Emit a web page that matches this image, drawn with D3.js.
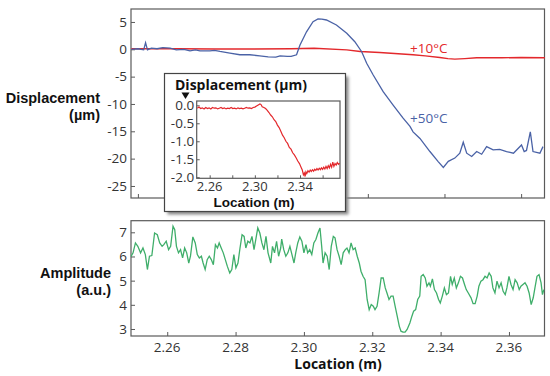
<!DOCTYPE html>
<html><head><meta charset="utf-8">
<script src="https://cdn.jsdelivr.net/npm/d3@7"></script>
<style>
html,body{margin:0;padding:0;background:#fff;}
text{font-family:"Open Sans",sans-serif;}
</style></head>
<body><svg id="c" width="550" height="376"></svg>
<script>
// ---- Top panel: displacement (µm) vs location (m)
const topTicksX = [2.26, 2.28, 2.30, 2.32, 2.34, 2.36];
const topTicksY = [5, 0, -5, -10, -15, -20, -25];
const blueLoc = [2.2583,2.2600,2.2615,2.2620,2.2625,2.2635,2.2650,2.2665,2.2684,2.2700,2.2720,2.2736,2.2750,2.2762,2.2788,2.2800,2.2814,2.2840,2.2866,2.2892,2.2918,2.2940,2.2960,2.2971,2.2990,2.3000,2.3014,2.3023,2.3040,2.3057,2.3070,2.3080,2.3092,2.3118,2.3145,2.3166,2.3184,2.3197,2.3214,2.3240,2.3266,2.3292,2.3310,2.3318,2.3336,2.3362,2.3383,2.3397,2.3410,2.3427,2.3440,2.3449,2.3458,2.3471,2.3484,2.3497,2.3510,2.3527,2.3544,2.3562,2.3580,2.3601,2.3608,2.3614,2.3624,2.3631,2.3649,2.3657];
const blueVal = [0.0,0.1,-0.1,1.2,-0.1,0.2,0.1,0.3,0.2,-0.1,0.0,-0.3,-0.1,-0.3,-0.3,-0.2,-0.4,-0.7,-1.0,-1.0,-1.2,-1.4,-1.45,-1.2,-1.3,-1.3,-1.0,0.8,3.2,5.05,5.54,5.5,5.36,4.44,2.92,1.39,-0.44,-2.56,-4.7,-7.75,-10.2,-12.6,-14.1,-15.1,-16.3,-18.7,-20.5,-21.6,-20.5,-19.9,-19.0,-17.0,-19.0,-19.6,-18.7,-19.2,-17.8,-18.4,-18.3,-18.7,-19.0,-17.5,-18.7,-18.5,-15.1,-18.7,-19.0,-17.8];
const redLoc = [2.2583,2.2700,2.2800,2.2900,2.3000,2.3060,2.3145,2.3180,2.3231,2.3318,2.3350,2.3388,2.3409,2.3427,2.3453,2.3484,2.3550,2.3600,2.3662];
const redVal = [0.1,0.1,0.05,0.05,0.1,0.2,-0.1,-0.4,-0.6,-1.0,-1.2,-1.5,-1.7,-1.8,-1.7,-1.55,-1.55,-1.5,-1.55];
const seriesLabels = ["+10°C", "+50°C"];

// ---- Inset: displacement near 2.30 m
const insetTicksX = [2.26, 2.28, 2.30, 2.32, 2.34, 2.36];
const insetLabelsX = [2.26, 2.30, 2.34];
const insetTicksY = [0.0, -0.5, -1.0, -1.5, -2.0];
const insetLoc = [2.2490,2.2505,2.2520,2.2535,2.2550,2.2565,2.2580,2.2595,2.2610,2.2625,2.2640,2.2655,2.2670,2.2685,2.2700,2.2715,2.2730,2.2745,2.2760,2.2775,2.2790,2.2805,2.2820,2.2835,2.2850,2.2865,2.2880,2.2895,2.2910,2.2925,2.2940,2.2955,2.2970,2.2985,2.3000,2.3015,2.3030,2.3045,2.3055,2.3065,2.3080,2.3095,2.3110,2.3125,2.3140,2.3155,2.3170,2.3185,2.3200,2.3215,2.3230,2.3245,2.3260,2.3275,2.3290,2.3305,2.3320,2.3335,2.3350,2.3365,2.3380,2.3395,2.3410,2.3420,2.3430,2.3438,2.3445,2.3452,2.3460,2.3470,2.3480,2.3490,2.3500,2.3510,2.3520,2.3530,2.3540,2.3550,2.3560,2.3570,2.3580,2.3590,2.3600,2.3610,2.3620,2.3630,2.3640,2.3650,2.3660,2.3670,2.3680,2.3690,2.3700,2.3710,2.3720,2.3730,2.3740,2.3750];
const insetVal = [-0.08,-0.05,-0.09,-0.07,-0.10,-0.06,-0.09,-0.07,-0.10,-0.06,-0.08,-0.07,-0.10,-0.08,-0.06,-0.09,-0.07,-0.10,-0.08,-0.09,-0.06,-0.09,-0.08,-0.10,-0.07,-0.09,-0.08,-0.10,-0.08,-0.06,-0.08,-0.07,-0.09,-0.06,-0.05,-0.02,0.01,0.04,0.02,-0.04,-0.06,-0.09,-0.14,-0.20,-0.27,-0.32,-0.40,-0.45,-0.55,-0.62,-0.72,-0.83,-0.90,-1.00,-1.06,-1.17,-1.22,-1.32,-1.38,-1.46,-1.55,-1.62,-1.73,-1.80,-1.93,-1.88,-1.98,-1.85,-1.90,-1.82,-1.86,-1.80,-1.84,-1.79,-1.83,-1.78,-1.81,-1.76,-1.80,-1.75,-1.79,-1.74,-1.78,-1.72,-1.77,-1.70,-1.76,-1.68,-1.74,-1.64,-1.72,-1.58,-1.70,-1.62,-1.66,-1.59,-1.64,-1.61];

// ---- Bottom panel: amplitude (a.u.)
const botTicksX = [2.26, 2.28, 2.30, 2.32, 2.34, 2.36];
const botTicksY = [7, 6, 5, 4, 3];
const greenLoc = [2.2494,2.2500,2.2507,2.2514,2.2522,2.2529,2.2536,2.2542,2.2548,2.2555,2.2563,2.2571,2.2578,2.2585,2.2590,2.2597,2.2604,2.2610,2.2617,2.2622,2.2627,2.2633,2.2639,2.2645,2.2651,2.2657,2.2663,2.2668,2.2675,2.2682,2.2688,2.2694,2.2700,2.2705,2.2711,2.2717,2.2723,2.2729,2.2735,2.2741,2.2747,2.2752,2.2758,2.2764,2.2770,2.2776,2.2783,2.2789,2.2795,2.2801,2.2807,2.2813,2.2819,2.2825,2.2830,2.2836,2.2842,2.2848,2.2854,2.2860,2.2865,2.2871,2.2877,2.2883,2.2889,2.2895,2.2903,
2.2908,2.2914,2.2920,2.2926,2.2932,2.2935,2.2941,2.2947,2.2953,2.2959,2.2965,2.2971,2.2976,2.2982,2.2988,2.2994,2.3000,2.3006,2.3011,2.3017,2.3023,2.3029,2.3035,2.3041,2.3047,2.3052,2.3056,2.3062,2.3068,2.3074,2.3080,2.3086,2.3091,2.3097,2.3103,2.3109,2.3115,2.3121,2.3126,2.3132,2.3138,2.3144,2.3150,2.3156,2.3162,2.3167,2.3173,2.3179,2.3185,2.3191,2.3197,2.3203,2.3208,2.3214,2.3220,2.3226,2.3232,2.3238,2.3243,2.3249,2.3255,2.3261,2.3267,2.3273,2.3279,2.3284,2.3290,2.3296,2.3302,
2.3310,2.3316,2.3321,2.3327,2.3333,2.3339,2.3343,2.3349,2.3355,2.3360,2.3366,2.3370,2.3376,2.3382,2.3388,2.3394,2.3399,2.3405,2.3411,2.3417,2.3423,2.3429,2.3434,2.3440,2.3446,2.3452,2.3458,2.3464,2.3470,2.3475,2.3481,2.3489,2.3495,2.3501,2.3507,2.3512,2.3518,2.3524,2.3530,2.3536,2.3542,2.3548,2.3553,2.3559,2.3565,2.3571,2.3577,2.3583,2.3589,2.3594,2.3600,2.3606,2.3612,2.3618,2.3624,2.3630,2.3635,2.3641,2.3647,2.3653,2.3659,2.3665,2.3671,2.3676,2.3682,2.3688,2.3694,2.3698,2.3702];
const greenVal = [6.0,6.15,6.56,6.42,6.15,6.35,6.08,5.46,6.01,6.04,6.97,6.9,6.56,6.42,6.49,6.63,6.28,6.42,7.25,7.11,6.42,6.15,6.28,5.94,6.35,6.15,5.73,6.01,6.81,6.56,6.08,5.94,6.01,5.73,5.46,5.87,6.01,5.87,5.66,6.49,6.35,6.56,6.35,6.15,5.87,5.59,5.32,5.46,6.08,5.53,5.73,6.35,6.9,6.83,6.35,6.63,6.56,6.83,6.28,6.77,7.18,6.97,6.56,6.28,6.83,6.15,5.73,
6.42,6.15,6.63,6.01,6.35,6.72,6.28,6.01,6.15,6.42,6.08,5.73,6.15,6.56,6.81,6.63,6.15,6.49,6.15,6.28,6.08,6.56,6.70,6.97,7.18,6.42,5.73,6.15,6.01,5.46,6.42,6.83,6.77,6.28,6.01,5.66,6.15,6.28,6.35,6.15,6.56,6.28,6.35,6.01,5.73,5.39,5.18,5.04,4.22,3.80,4.01,3.94,3.80,3.94,4.49,5.11,5.11,4.70,4.49,4.22,4.36,4.36,3.94,3.53,3.12,2.91,2.87,2.87,2.98,3.25,
3.53,3.74,3.80,4.22,4.36,5.18,5.25,5.11,4.77,4.91,4.77,5.07,4.63,4.49,4.22,4.08,4.36,4.70,4.42,4.49,5.18,4.84,5.11,4.70,4.91,5.18,5.11,4.84,4.63,4.49,4.29,4.05,4.05,4.36,4.77,4.98,5.04,5.18,5.11,5.32,5.18,4.70,4.49,4.98,4.70,4.91,4.56,4.42,4.70,5.18,4.84,4.63,5.04,4.91,4.63,4.77,4.84,4.91,4.77,4.49,4.01,4.29,4.70,5.18,5.25,4.91,4.42,4.63,5.04];

const RED = "#e3282c", BLUE = "#4a62a6", GREEN = "#3fae6a", FRAME = "#5a5a5a", TXT = "#333";
const COMPACT = "'Liberation Sans', Arial, sans-serif";

const svg = d3.select("#c");
svg.append("rect").attr("width",550).attr("height",376).attr("fill","#fff");
const defs = svg.append("defs");
const f = defs.append("filter").attr("id","sh").attr("x","-20%").attr("y","-20%").attr("width","140%").attr("height","140%");
f.append("feGaussianBlur").attr("stdDeviation",1.6);

function zip(a,b){ return a.map((x,i)=>[x,b[i]]); }

function panel(g, x, y, ticksX, ticksY, opts){
  const [x0,x1] = x.range(), [y0,y1] = y.range();
  g.append("rect").attr("x",x0).attr("y",y1).attr("width",x1-x0).attr("height",y0-y1)
    .attr("fill","none").attr("stroke",FRAME).attr("stroke-width",1.2);
  const ax = g.append("g").attr("transform",`translate(0,${y0})`)
    .call(d3.axisTop(x).tickValues(ticksX).tickSize(opts.tick).tickFormat(""));
  ax.select(".domain").remove();
  ax.selectAll("line").attr("stroke",FRAME);
  const ay = g.append("g").attr("transform",`translate(${x0},0)`)
    .call(d3.axisRight(y).tickValues(ticksY).tickSize(opts.tick).tickFormat(""));
  ay.select(".domain").remove();
  ay.selectAll("line").attr("stroke",FRAME);
  g.selectAll(null).data(ticksY).enter().append("text")
    .attr("x",x0-opts.ylabGap).attr("y",d=>y(d)).attr("dy","0.36em")
    .attr("text-anchor","end").attr("font-size",opts.fs).attr("fill",TXT)
    .text(d=>opts.yfmt(d));
}
function twoLine(g, x, y, l1, l2, gap){
  [l1,l2].forEach((s,i)=>{
    g.append("text").attr("x",x).attr("y",y+i*gap).attr("text-anchor","end")
      .attr("font-size",14.5).attr("font-weight","bold").attr("fill","#111")
      .style("font-family",COMPACT).text(s);
  });
}

// ---- top
const xT = d3.scaleLinear().domain([2.2582,2.3661]).range([131,544.5]);
const yT = d3.scaleLinear().domain([-27.2,7.37]).range([198,9]);
const gT = svg.append("g");
panel(gT, xT, yT, topTicksX, topTicksY, {tick:4, ylabGap:4, fs:13.5, yfmt:d=>d});
const line = (xs, ys) => d3.line().x(d=>xs(d[0])).y(d=>ys(d[1]));
gT.append("path").datum(zip(redLoc,redVal)).attr("d",line(xT,yT)).attr("fill","none").attr("stroke",RED).attr("stroke-width",1.4);
gT.append("path").datum(zip(blueLoc,blueVal)).attr("d",line(xT,yT)).attr("fill","none").attr("stroke",BLUE).attr("stroke-width",1.3);
gT.append("text").attr("x",410).attr("y",52.5).attr("font-size",13.5).attr("fill",RED).text(seriesLabels[0]);
gT.append("text").attr("x",410).attr("y",123).attr("font-size",13.5).attr("fill",BLUE).text(seriesLabels[1]);
twoLine(gT, 100, 103, "Displacement", "(µm)", 16.5);

// ---- bottom
const xB = d3.scaleLinear().domain([2.2494,2.3704]).range([131,544.5]);
const yB = d3.scaleLinear().domain([2.71,7.48]).range([336,220.7]);
const gB = svg.append("g");
panel(gB, xB, yB, botTicksX, botTicksY, {tick:4, ylabGap:4, fs:13.5, yfmt:d=>d});
gB.selectAll(null).data(botTicksX).enter().append("text")
  .attr("x",d=>xB(d)).attr("y",351.5).attr("text-anchor","middle").attr("font-size",13.5).attr("fill",TXT)
  .text(d=>d.toFixed(2));
gB.append("path").datum(zip(greenLoc,greenVal)).attr("d",line(xB,yB)).attr("fill","none").attr("stroke",GREEN).attr("stroke-width",1.3);
gB.append("text").attr("x",338).attr("y",369).attr("text-anchor","middle").attr("font-size",14).attr("font-weight","bold").attr("fill","#111").text("Location (m)");
twoLine(gB, 111, 278, "Amplitude", "(a.u.)", 16.5);

// ---- inset
const gI = svg.append("g");
gI.append("rect").attr("x",167.5).attr("y",76.5).attr("width",181).attr("height",138).attr("fill","#888").attr("filter","url(#sh)");
gI.append("rect").attr("x",164.5).attr("y",73.5).attr("width",181).attr("height",138).attr("fill","#fff").attr("stroke","#444").attr("stroke-width",1.2);
const xI = d3.scaleLinear().domain([2.2485,2.3754]).range([196.7,340]);
const yI = d3.scaleLinear().domain([-2.03,0.12]).range([178.3,101]);
panel(gI, xI, yI, insetTicksX, insetTicksY, {tick:3, ylabGap:2.5, fs:13.5, yfmt:d=>d.toFixed(1)});
gI.selectAll(null).data(insetLabelsX).enter().append("text")
  .attr("x",d=>xI(d)).attr("y",190.6).attr("text-anchor","middle").attr("font-size",13).attr("fill",TXT)
  .text(d=>d.toFixed(2));
gI.append("path").datum(zip(insetLoc,insetVal)).attr("d",line(xI,yI)).attr("fill","none").attr("stroke",RED).attr("stroke-width",1.2);
gI.append("text").attr("x",175).attr("y",90).attr("font-size",14).attr("font-weight","bold").attr("fill","#111").text("Displacement (µm)");
gI.append("path").attr("d","M181.5,92.5 L189.5,92.5 L185.5,99 Z").attr("fill","#111");
gI.append("text").attr("x",254).attr("y",206.8).attr("text-anchor","middle").attr("font-size",13.5).attr("font-weight","bold").attr("fill","#111")
  .style("font-family",COMPACT).text("Location (m)");
</script></body></html>
